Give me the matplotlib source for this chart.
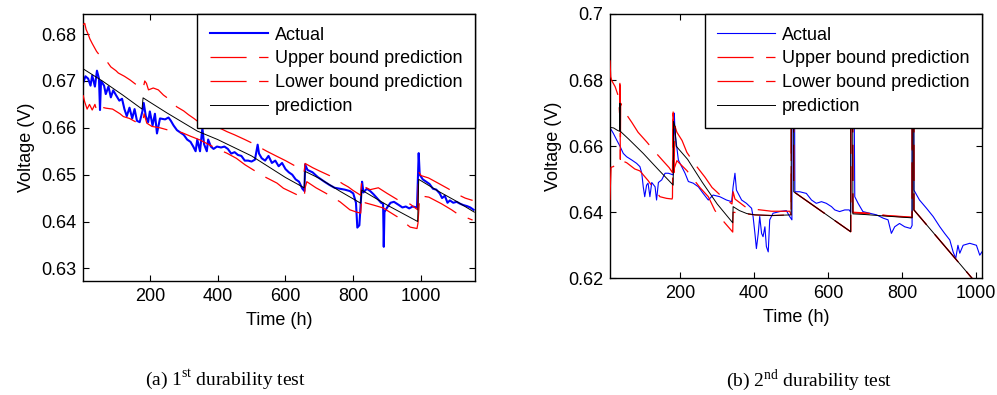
import matplotlib.pyplot as plt
from matplotlib.ticker import FormatStrFormatter

# ======================================
# data (time in h, voltage in V)
# ======================================
# --- (a) 1st durability test ---
act1_t = [3, 10, 18, 25, 30, 38, 44, 50, 53, 56, 65, 70, 78, 85, 92, 100, 110, 118, 125, 132,
          140, 148, 155, 162, 170, 178, 182, 188, 195, 200, 208, 215, 221, 230, 245, 255, 262,
          270, 280, 290, 300, 310, 320, 328, 335, 340, 348, 355, 360, 368, 372, 380, 388, 398,
          410, 420, 430, 440, 450, 460, 470, 480, 490, 500, 510, 518, 522, 530, 540, 550, 560,
          570, 580, 590, 600, 610, 620, 630, 640, 650, 656, 658, 665, 680, 695, 705, 715, 730,
          745, 760, 775, 790, 800, 808, 812, 818, 822, 826, 830, 840, 850, 860, 870, 882, 888,
          890, 892, 900, 910, 920, 935, 945, 955, 965, 975, 988, 993, 996, 1005, 1015, 1025,
          1035, 1045, 1055, 1062, 1070, 1078, 1085, 1095, 1105, 1115, 1125, 1135, 1145, 1155]
act1_v = [0.6695, 0.6710, 0.6705, 0.6690, 0.6712, 0.6688, 0.6722, 0.6705, 0.6638, 0.6700,
          0.6690, 0.6672, 0.6688, 0.6665, 0.6680, 0.6670, 0.6658, 0.6662, 0.6640, 0.6625,
          0.6643, 0.6620, 0.6640, 0.6615, 0.6612, 0.6635, 0.6653, 0.6625, 0.6612, 0.6635,
          0.6605, 0.6630, 0.6588, 0.6620, 0.6618, 0.6622, 0.6615, 0.6605, 0.6595, 0.6590,
          0.6585, 0.6575, 0.6570, 0.6560, 0.6550, 0.6575, 0.6550, 0.6600, 0.6565, 0.6550,
          0.6575, 0.6560, 0.6555, 0.6560, 0.6558, 0.6560, 0.6555, 0.6545, 0.6548, 0.6542,
          0.6540, 0.6530, 0.6530, 0.6528, 0.6532, 0.6564, 0.6545, 0.6535, 0.6530, 0.6540,
          0.6525, 0.6530, 0.6518, 0.6525, 0.6512, 0.6505, 0.6500, 0.6490, 0.6485, 0.6470,
          0.6465, 0.6522, 0.6510, 0.6505, 0.6495, 0.6490, 0.6485, 0.6478, 0.6472, 0.6470,
          0.6468, 0.6465, 0.6460, 0.6440, 0.6387, 0.6392, 0.6440, 0.6485, 0.6462, 0.6470,
          0.6465, 0.6458, 0.6450, 0.6440, 0.6438, 0.6346, 0.6420, 0.6430, 0.6440, 0.6442,
          0.6435, 0.6430, 0.6432, 0.6428, 0.6432, 0.6430, 0.6546, 0.6500, 0.6490, 0.6485,
          0.6480, 0.6470, 0.6468, 0.6460, 0.6450, 0.6455, 0.6440, 0.6445, 0.6440, 0.6442,
          0.6438, 0.6435, 0.6433, 0.6430, 0.6425]

up1_t = [3, 8, 12, 18, 23, 30, 43, 55, 70, 85, 100, 107, 125, 142, 160, 175, 180, 185, 190, 196,
         210, 225, 240, 255, 268, 279, 300, 314, 330, 348, 380, 410, 427, 450, 480, 500, 520, 545,
         575, 600, 630, 655, 658, 680, 700, 730, 751, 770, 785, 800, 822, 825, 830, 850, 874, 900,
         932, 968, 990, 993, 1000, 1022, 1050, 1080, 1110, 1130, 1152]
up1_v = [0.6820, 0.6823, 0.6810, 0.6800, 0.6790, 0.6780, 0.6763, 0.6752, 0.6745, 0.6730, 0.6722,
         0.6717, 0.6710, 0.6702, 0.6692, 0.6685, 0.6683, 0.6700, 0.6695, 0.6681, 0.6685, 0.6681,
         0.6670, 0.6662, 0.6655, 0.6645, 0.6636, 0.6628, 0.6620, 0.6610, 0.6605, 0.6598, 0.6592,
         0.6585, 0.6575, 0.6568, 0.6560, 0.6550, 0.6539, 0.6530, 0.6518, 0.6505, 0.6524, 0.6515,
         0.6508, 0.6498, 0.6489, 0.6480, 0.6474, 0.6466, 0.6456, 0.6489, 0.6475, 0.6468, 0.6472,
         0.6460, 0.6446, 0.6437, 0.6425, 0.6506, 0.6498, 0.6493, 0.6482, 0.6470, 0.6457, 0.6450,
         0.6445]

lo1_t = [3, 8, 15, 22, 30, 38, 44, 53, 70, 90, 112, 122, 140, 160, 175, 180, 183, 191, 206, 230,
         250, 270, 294, 320, 348, 380, 405, 427, 455, 481, 510, 540, 575, 594, 620, 640, 655, 658,
         663, 690, 720, 761, 790, 810, 822, 825, 835, 860, 888, 930, 968, 988, 991, 996, 1023,
         1060, 1090, 1112, 1135, 1152]
lo1_v = [0.6670, 0.6655, 0.6640, 0.6650, 0.6638, 0.6650, 0.6635, 0.6645, 0.6642, 0.6640, 0.6630,
         0.6624, 0.6620, 0.6612, 0.6608, 0.6615, 0.6630, 0.6610, 0.6603, 0.6600, 0.6596, 0.6592,
         0.6590, 0.6582, 0.6574, 0.6562, 0.6553, 0.6546, 0.6535, 0.6521, 0.6508, 0.6495, 0.6482,
         0.6471, 0.6462, 0.6455, 0.6450, 0.6472, 0.6485, 0.6472, 0.6460, 0.6442, 0.6425, 0.6420,
         0.6418, 0.6452, 0.6440, 0.6435, 0.6429, 0.6410, 0.6388, 0.6385, 0.6397, 0.6455, 0.6452,
         0.6438, 0.6425, 0.6414, 0.6408, 0.6403]

pred1_t = [3, 60, 120, 177, 180, 250, 340, 400, 500, 600, 655, 658, 700, 760, 822, 825, 900,
           990, 993, 1050, 1100, 1157]
pred1_v = [0.6726, 0.6700, 0.6670, 0.6640, 0.6664, 0.6632, 0.6593, 0.6575, 0.6540, 0.6494,
           0.6472, 0.6507, 0.6492, 0.6465, 0.6439, 0.6467, 0.6435, 0.6400, 0.6490, 0.6465,
           0.6445, 0.6420]

# --- (b) 2nd durability test ---
act2_t = [10, 11, 19, 28, 37, 46, 55, 69, 82, 91, 96, 100, 104, 109, 113, 118, 123, 132, 136,
          141, 150, 159, 168, 181, 184, 186, 195, 204, 213, 222, 235, 249, 262, 276, 289, 307,
          325, 339, 343, 348, 352, 366, 379, 393, 397, 402, 406, 411, 415, 420, 424, 429, 433,
          438, 442, 451, 469, 487, 496, 502, 503, 507, 510, 523, 541, 555, 568, 582, 595, 609,
          618, 631, 645, 657, 661, 662, 666, 672, 681, 694, 712, 731, 749, 762, 771, 780, 793,
          807, 823, 827, 828, 830, 832, 847, 866, 884, 902, 915, 929, 938, 945, 951, 956, 965,
          983, 1001, 1010, 1016]
act2_v = [0.6266, 0.6654, 0.6639, 0.6619, 0.6600, 0.6578, 0.6568, 0.6558, 0.6548, 0.6538,
          0.6518, 0.6477, 0.6447, 0.6482, 0.6488, 0.6447, 0.6490, 0.6477, 0.6437, 0.6490,
          0.6498, 0.6518, 0.6518, 0.6513, 0.6700, 0.6640, 0.6558, 0.6538, 0.6518, 0.6493,
          0.6488, 0.6477, 0.6457, 0.6437, 0.6452, 0.6447, 0.6437, 0.6432, 0.6477, 0.6518,
          0.6467, 0.6437, 0.6427, 0.6412, 0.6387, 0.6336, 0.6290, 0.6336, 0.6387, 0.6336,
          0.6326, 0.6356, 0.6296, 0.6280, 0.6377, 0.6397, 0.6402, 0.6405, 0.6387, 0.6377,
          0.7500, 0.7500, 0.6462, 0.6462, 0.6457, 0.6437, 0.6427, 0.6432, 0.6427, 0.6417,
          0.6407, 0.6402, 0.6407, 0.6407, 0.6400, 0.7500, 0.7500, 0.6447, 0.6427, 0.6402,
          0.6397, 0.6392, 0.6382, 0.6377, 0.6336, 0.6356, 0.6366, 0.6356, 0.6351, 0.6360,
          0.7500, 0.7500, 0.6467, 0.6437, 0.6412, 0.6387, 0.6356, 0.6336, 0.6316, 0.6280,
          0.6260, 0.6300, 0.6276, 0.6300, 0.6306, 0.6300, 0.6270, 0.6280]

up2_t = [10, 12, 15, 24, 33, 36, 37, 38, 39, 42, 55, 69, 86, 110, 130, 153, 170, 179, 181, 183,
         186, 191, 205, 218, 240, 267, 286, 310, 340, 343, 348, 375, 402, 447, 496, 500, 501, 505,
         507, 661, 662, 665, 667, 700, 760, 827, 828, 831, 832, 1000]
up2_v = [0.6860, 0.6810, 0.6798, 0.6780, 0.6750, 0.6700, 0.6808, 0.6560, 0.6730, 0.6718, 0.6695,
         0.6672, 0.6642, 0.6612, 0.6585, 0.6556, 0.6535, 0.6520, 0.6712, 0.6520, 0.6660, 0.6642,
         0.6617, 0.6581, 0.6545, 0.6506, 0.6475, 0.6450, 0.6425, 0.6462, 0.6440, 0.6417, 0.6409,
         0.6403, 0.6403, 0.6392, 0.7500, 0.7500, 0.6462, 0.6341, 0.7500, 0.7500, 0.6400, 0.6398,
         0.6390, 0.6385, 0.7500, 0.7500, 0.6407, 0.6186]

lo2_t = [10, 11, 13, 19, 28, 36, 42, 55, 77, 91, 113, 130, 145, 163, 178, 179, 181, 183, 191,
         218, 253, 276, 294, 315, 342, 343, 357, 402, 447, 496, 500, 501, 505, 507, 661, 662,
         665, 667, 700, 760, 827, 828, 831, 832, 1000]
lo2_v = [0.6437, 0.6477, 0.6536, 0.6538, 0.6548, 0.6555, 0.6556, 0.6550, 0.6531, 0.6525, 0.6496,
         0.6470, 0.6447, 0.6442, 0.6440, 0.6445, 0.6700, 0.6530, 0.6556, 0.6526, 0.6475, 0.6447,
         0.6405, 0.6375, 0.6340, 0.6400, 0.6398, 0.6392, 0.6390, 0.6392, 0.6392, 0.7500, 0.7500,
         0.6462, 0.6341, 0.7500, 0.7500, 0.6398, 0.6396, 0.6389, 0.6384, 0.7500, 0.7500, 0.6407,
         0.6186]

pred2_t = [10, 20, 30, 36, 37, 38, 60, 100, 140, 181, 182, 186, 189, 220, 260, 300, 342, 343,
           360, 380, 402, 450, 500, 501, 505, 507, 661, 662, 665, 667, 700, 760, 827, 828, 831,
           832, 1000]
pred2_v = [0.6657, 0.6655, 0.6648, 0.6645, 0.6730, 0.6645, 0.6622, 0.6578, 0.6530, 0.6482,
           0.6675, 0.6658, 0.6600, 0.6560, 0.6490, 0.6425, 0.6368, 0.6417, 0.6405, 0.6396,
           0.6392, 0.6390, 0.6392, 0.7500, 0.7500, 0.6462, 0.6341, 0.7500, 0.7500, 0.6395,
           0.6393, 0.6388, 0.6383, 0.7500, 0.7500, 0.6407, 0.6186]

labels = ["Actual", "Upper bound prediction", "Lower bound prediction", "prediction"]

# ======================================
# style
# ======================================
plt.rcParams["font.family"] = ["Liberation Sans", "DejaVu Sans"]
plt.rcParams["font.size"] = 13
plt.rcParams["lines.scale_dashes"] = False
plt.rcParams["mathtext.fontset"] = "custom"
plt.rcParams["mathtext.rm"] = "Liberation Serif"

dash = (0, (26, 9))

fig = plt.figure(figsize=(9.97, 3.95), dpi=100)
ax1 = fig.add_axes([0.0833, 0.2886, 0.3931, 0.6760])
ax2 = fig.add_axes([0.6118, 0.2954, 0.3735, 0.6692])


def draw(ax, act, up, lo, pred, act_lw):
    ax.plot(act[0], act[1], color="#0000ff", lw=act_lw, label=labels[0], zorder=2)
    ax.plot(up[0], up[1], color="#ff0000", lw=0.9, ls=dash, label=labels[1], zorder=3)
    ax.plot(lo[0], lo[1], color="#ff0000", lw=0.9, ls=dash, label=labels[2], zorder=3)
    ax.plot(pred[0], pred[1], color="black", lw=0.7, label=labels[3], zorder=4)
    ax.set_xticks([200, 400, 600, 800, 1000])
    ax.yaxis.set_major_formatter(FormatStrFormatter("%g"))
    ax.tick_params(direction="in", top=True, right=True, length=4, width=0.8, pad=5)
    for s in ax.spines.values():
        s.set_linewidth(1.0)
    ax.set_xlabel("Time (h)", labelpad=5)
    ax.set_ylabel("Voltage (V)", labelpad=4)
    leg = ax.legend(loc="upper right", borderaxespad=0, fancybox=False, edgecolor="black",
                    framealpha=1, handlelength=3.2, handletextpad=0.4, borderpad=0.7,
                    labelspacing=0.38)
    leg.get_frame().set_linewidth(1.0)
    leg.set_zorder(10)


draw(ax1, (act1_t, act1_v), (up1_t, up1_v), (lo1_t, lo1_v), (pred1_t, pred1_v), 1.5)
ax1.set_xlim(3, 1159)
ax1.set_ylim(0.6273, 0.6843)
ax1.set_yticks([0.63, 0.64, 0.65, 0.66, 0.67, 0.68])

draw(ax2, (act2_t, act2_v), (up2_t, up2_v), (lo2_t, lo2_v), (pred2_t, pred2_v), 0.8)
ax2.set_xlim(10, 1017)
ax2.set_ylim(0.62, 0.70)
ax2.set_yticks([0.62, 0.64, 0.66, 0.68, 0.70])

fig.text(225 / 997, 1 - 380 / 395, "(a) 1$^{\\mathrm{st}}$ durability test",
         ha="center", va="center", fontsize=14, family="Liberation Serif")
fig.text(809 / 997, 1 - 380 / 395, "(b) 2$^{\\mathrm{nd}}$ durability test",
         ha="center", va="center", fontsize=14, family="Liberation Serif")

fig.savefig("out.png", dpi=100)
